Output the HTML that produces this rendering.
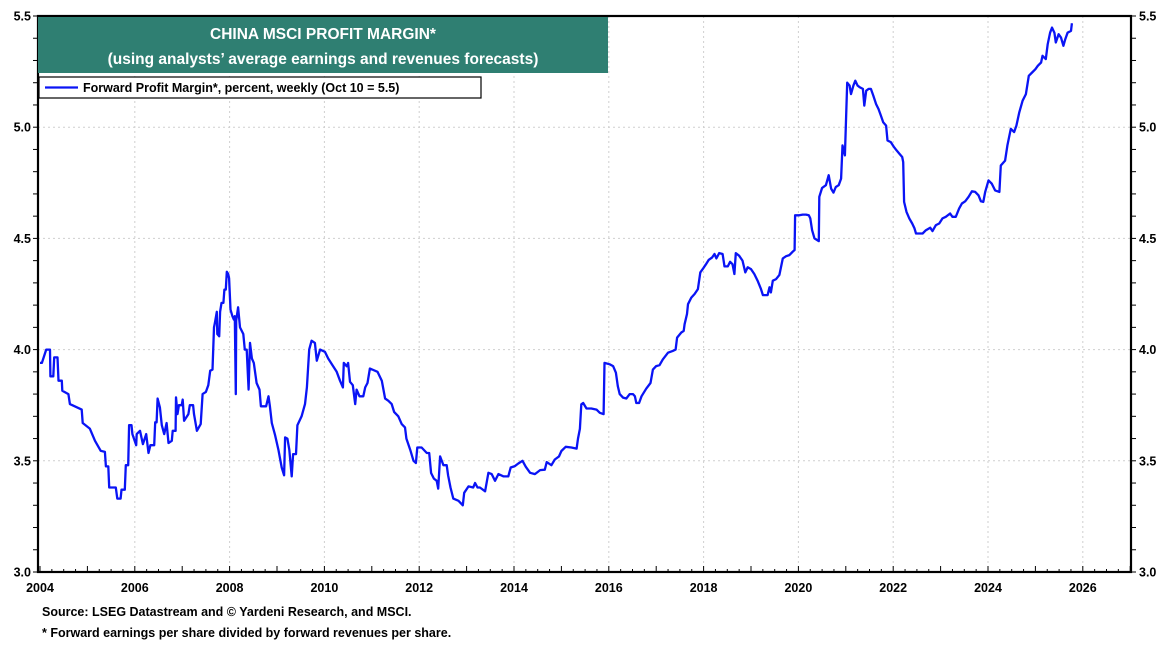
<!DOCTYPE html>
<html><head><meta charset="utf-8"><style>
body{margin:0;background:#fff;}
svg text{font-family:"Liberation Sans",Arial,sans-serif;font-weight:bold;}
</style></head><body>
<svg id="chart" width="1170" height="645" viewBox="0 0 1170 645" xmlns="http://www.w3.org/2000/svg">
<g id="grid"></g>
<g id="axes"></g>
<path id="series" fill="none" stroke="#0a14f5" stroke-width="2.3" stroke-linejoin="round"/>
<rect x="38" y="16" width="1093" height="556" fill="none" stroke="#000" stroke-width="2.2"/>
<g>
<rect x="38" y="17" width="570" height="56" fill="#2f7f72"/>
<text x="323" y="39" text-anchor="middle" fill="#fff" font-size="15.5">CHINA MSCI PROFIT MARGIN*</text>
<text x="323" y="64" text-anchor="middle" fill="#fff" font-size="15.5">(using analysts’ average earnings and revenues forecasts)</text>
</g>
<g>
<rect x="39" y="77" width="442" height="21" fill="#fff" stroke="#000" stroke-width="1.2"/>
<line x1="45" y1="87.5" x2="78" y2="87.5" stroke="#0a14f5" stroke-width="2.3"/>
<text x="83" y="92" font-size="12.5" fill="#000">Forward Profit Margin*, percent, weekly (Oct 10 = 5.5)</text>
</g>
<text x="42" y="616" font-size="12.5">Source: LSEG Datastream and © Yardeni Research, and MSCI.</text>
<text x="42" y="637" font-size="12.5">* Forward earnings per share divided by forward revenues per share.</text>
</svg>
<script>
const yearTicks=[2004,2006,2008,2010,2012,2014,2016,2018,2020,2022,2024,2026];
const valueTicks=[3.0,3.5,4.0,4.5,5.0,5.5];
const dates=[2004.0,2004.04,2004.13,2004.21,2004.22,2004.28,2004.30,2004.37,2004.39,2004.46,2004.47,2004.60,2004.63,2004.88,2004.90,2005.05,2005.16,2005.28,2005.37,2005.39,2005.44,2005.46,2005.60,2005.63,2005.70,2005.72,2005.79,2005.81,2005.86,2005.88,2005.93,2005.95,2006.03,2006.04,2006.11,2006.17,2006.24,2006.29,2006.33,2006.41,2006.43,2006.46,2006.48,2006.53,2006.57,2006.62,2006.67,2006.71,2006.78,2006.80,2006.86,2006.87,2006.90,2006.93,2006.99,2007.01,2007.04,2007.13,2007.16,2007.23,2007.25,2007.31,2007.39,2007.43,2007.50,2007.55,2007.59,2007.64,2007.67,2007.69,2007.73,2007.74,2007.78,2007.80,2007.83,2007.87,2007.89,2007.92,2007.94,2007.97,2007.99,2008.02,2008.06,2008.09,2008.11,2008.13,2008.14,2008.18,2008.22,2008.29,2008.32,2008.36,2008.40,2008.43,2008.47,2008.51,2008.57,2008.63,2008.66,2008.77,2008.82,2008.85,2008.89,2008.96,2009.03,2009.10,2009.15,2009.17,2009.22,2009.26,2009.31,2009.34,2009.40,2009.43,2009.52,2009.59,2009.63,2009.68,2009.73,2009.80,2009.84,2009.91,2010.01,2010.08,2010.17,2010.26,2010.33,2010.39,2010.41,2010.47,2010.50,2010.54,2010.60,2010.65,2010.68,2010.74,2010.82,2010.86,2010.91,2010.96,2011.12,2011.21,2011.28,2011.35,2011.42,2011.47,2011.56,2011.63,2011.70,2011.73,2011.81,2011.88,2011.93,2011.96,2012.05,2012.16,2012.21,2012.25,2012.31,2012.37,2012.40,2012.44,2012.51,2012.58,2012.61,2012.66,2012.72,2012.83,2012.92,2012.95,2013.04,2013.14,2013.18,2013.23,2013.28,2013.39,2013.46,2013.53,2013.60,2013.67,2013.78,2013.88,2013.93,2014.02,2014.09,2014.18,2014.25,2014.34,2014.44,2014.55,2014.65,2014.69,2014.79,2014.86,2014.95,2015.00,2015.09,2015.21,2015.32,2015.35,2015.39,2015.42,2015.46,2015.53,2015.63,2015.74,2015.81,2015.89,2015.91,2016.02,2016.09,2016.15,2016.19,2016.23,2016.30,2016.37,2016.44,2016.51,2016.55,2016.58,2016.64,2016.69,2016.79,2016.88,2016.93,2017.00,2017.07,2017.14,2017.25,2017.35,2017.41,2017.44,2017.53,2017.58,2017.60,2017.65,2017.67,2017.74,2017.81,2017.88,2017.93,2017.98,2018.05,2018.11,2018.18,2018.23,2018.27,2018.33,2018.40,2018.44,2018.51,2018.56,2018.61,2018.65,2018.68,2018.75,2018.82,2018.88,2018.93,2019.00,2019.07,2019.14,2019.21,2019.25,2019.35,2019.39,2019.42,2019.46,2019.53,2019.60,2019.67,2019.74,2019.81,2019.88,2019.92,2019.93,2020.02,2020.09,2020.16,2020.22,2020.25,2020.29,2020.34,2020.43,2020.44,2020.50,2020.58,2020.64,2020.69,2020.74,2020.79,2020.85,2020.90,2020.93,2020.98,2021.03,2021.08,2021.11,2021.16,2021.20,2021.25,2021.30,2021.36,2021.39,2021.43,2021.48,2021.53,2021.58,2021.64,2021.69,2021.74,2021.79,2021.85,2021.88,2021.95,2022.02,2022.07,2022.13,2022.19,2022.21,2022.23,2022.28,2022.34,2022.40,2022.45,2022.48,2022.55,2022.62,2022.69,2022.78,2022.83,2022.90,2022.97,2023.04,2023.11,2023.20,2023.25,2023.32,2023.39,2023.45,2023.52,2023.59,2023.66,2023.73,2023.80,2023.85,2023.90,2023.94,2024.01,2024.08,2024.15,2024.24,2024.27,2024.36,2024.41,2024.48,2024.55,2024.60,2024.66,2024.73,2024.80,2024.86,2024.93,2025.00,2025.05,2025.12,2025.15,2025.22,2025.26,2025.31,2025.35,2025.40,2025.43,2025.49,2025.54,2025.59,2025.63,2025.68,2025.75,2025.77];
const margins=[3.94,3.94,4.00,4.00,3.88,3.88,3.965,3.965,3.86,3.86,3.815,3.80,3.755,3.73,3.67,3.645,3.59,3.545,3.54,3.475,3.475,3.38,3.38,3.33,3.33,3.37,3.37,3.48,3.48,3.66,3.66,3.62,3.57,3.62,3.635,3.575,3.62,3.535,3.57,3.57,3.673,3.673,3.78,3.74,3.66,3.62,3.67,3.58,3.59,3.635,3.635,3.785,3.71,3.75,3.75,3.775,3.68,3.71,3.75,3.75,3.71,3.635,3.665,3.80,3.81,3.84,3.905,3.91,4.10,4.12,4.17,4.07,4.06,4.17,4.21,4.21,4.27,4.27,4.35,4.34,4.32,4.18,4.15,4.135,4.15,3.80,4.13,4.19,4.10,4.07,4.00,4.00,3.82,4.03,3.96,3.94,3.85,3.82,3.745,3.745,3.79,3.745,3.67,3.615,3.55,3.47,3.435,3.605,3.60,3.55,3.43,3.53,3.53,3.66,3.70,3.755,3.83,4.00,4.04,4.03,3.95,4.00,3.99,3.96,3.93,3.90,3.86,3.83,3.94,3.925,3.94,3.855,3.84,3.755,3.82,3.79,3.79,3.83,3.85,3.915,3.90,3.86,3.78,3.77,3.755,3.72,3.70,3.665,3.65,3.60,3.55,3.50,3.49,3.56,3.56,3.535,3.535,3.445,3.42,3.41,3.375,3.52,3.48,3.48,3.435,3.38,3.33,3.32,3.30,3.356,3.385,3.38,3.40,3.38,3.38,3.363,3.446,3.44,3.41,3.44,3.43,3.43,3.47,3.476,3.488,3.50,3.473,3.446,3.44,3.458,3.46,3.494,3.48,3.506,3.52,3.544,3.563,3.56,3.555,3.60,3.644,3.754,3.76,3.735,3.735,3.73,3.716,3.71,3.94,3.934,3.926,3.896,3.836,3.80,3.784,3.78,3.80,3.80,3.79,3.76,3.76,3.79,3.824,3.85,3.91,3.926,3.93,3.956,3.986,3.994,4.00,4.054,4.077,4.084,4.114,4.16,4.204,4.234,4.25,4.272,4.347,4.362,4.384,4.404,4.414,4.43,4.41,4.434,4.43,4.374,4.374,4.395,4.384,4.34,4.434,4.422,4.40,4.347,4.37,4.362,4.34,4.31,4.272,4.245,4.245,4.28,4.257,4.31,4.317,4.336,4.41,4.42,4.425,4.44,4.448,4.604,4.604,4.607,4.607,4.604,4.59,4.537,4.50,4.488,4.687,4.727,4.739,4.784,4.724,4.706,4.731,4.739,4.769,4.918,4.873,5.20,5.187,5.149,5.187,5.209,5.187,5.179,5.172,5.097,5.164,5.172,5.172,5.142,5.104,5.082,5.052,5.022,5.007,4.94,4.933,4.91,4.896,4.881,4.866,4.843,4.664,4.619,4.59,4.567,4.545,4.522,4.522,4.522,4.537,4.548,4.533,4.56,4.567,4.59,4.597,4.612,4.597,4.597,4.634,4.657,4.667,4.687,4.712,4.709,4.694,4.667,4.664,4.709,4.761,4.746,4.716,4.709,4.828,4.85,4.918,4.993,4.978,5.007,5.067,5.119,5.149,5.231,5.246,5.261,5.276,5.291,5.321,5.306,5.373,5.425,5.448,5.425,5.381,5.418,5.403,5.366,5.396,5.425,5.433,5.467];
const X0=40,PX=47.4,Y0=572,YT=16,VMIN=3.0,VMAX=5.5,L=38,R=1131;
function xs(y){return X0+(y-2004)*PX;}
function ys(v){return Y0-(v-VMIN)/(VMAX-VMIN)*(Y0-YT);}
const NS='http://www.w3.org/2000/svg';
const grid=document.getElementById('grid'),axes=document.getElementById('axes');
function mk(tag,attrs,parent){const e=document.createElementNS(NS,tag);for(const k in attrs)e.setAttribute(k,attrs[k]);parent.appendChild(e);return e;}
yearTicks.forEach(yr=>{
  const x=xs(yr);
  if(yr>2004){const g=mk('line',{x1:x,x2:x,y1:YT,y2:Y0,stroke:'#cfcfcf','stroke-width':1,'stroke-dasharray':'2,3'},grid);
  
  }
  const t=mk('text',{x:x,y:592,'text-anchor':'middle','font-size':12.5},axes);t.textContent=yr;
  
  
});
for(let q=2004;q<=2027;q+=0.25){const x=xs(q);if(x>R)break;mk('line',{x1:x,x2:x,y1:Y0,y2:Y0-(Number.isInteger(q)?6:3),stroke:'#000','stroke-width':1},axes);}
valueTicks.forEach(v=>{
  const y=ys(v);
  if(v>3.0&&v<5.5){const g=mk('line',{x1:L,x2:R,y1:y,y2:y,stroke:'#cfcfcf','stroke-width':1,'stroke-dasharray':'2,3'},grid);
  
  }
  const t1=mk('text',{x:31,y:y+4.5,'text-anchor':'end','font-size':12.5},axes);t1.textContent=v.toFixed(1);
  
  
  const t2=mk('text',{x:1139,y:y+4.5,'font-size':12.5},axes);t2.textContent=v.toFixed(1);
  
  
});
for(let m=3.0;m<=5.5001;m+=0.1){const y=ys(m);mk('line',{x1:L-5,x2:L,y1:y,y2:y,stroke:'#000'},axes);mk('line',{x1:R,x2:R+5,y1:y,y2:y,stroke:'#000'},axes);}
let d='';dates.forEach((t,i)=>{d+=(i?'L':'M')+xs(t).toFixed(1)+','+ys(margins[i]).toFixed(1);});
document.getElementById('series').setAttribute('d',d);
</script>
</body></html>
